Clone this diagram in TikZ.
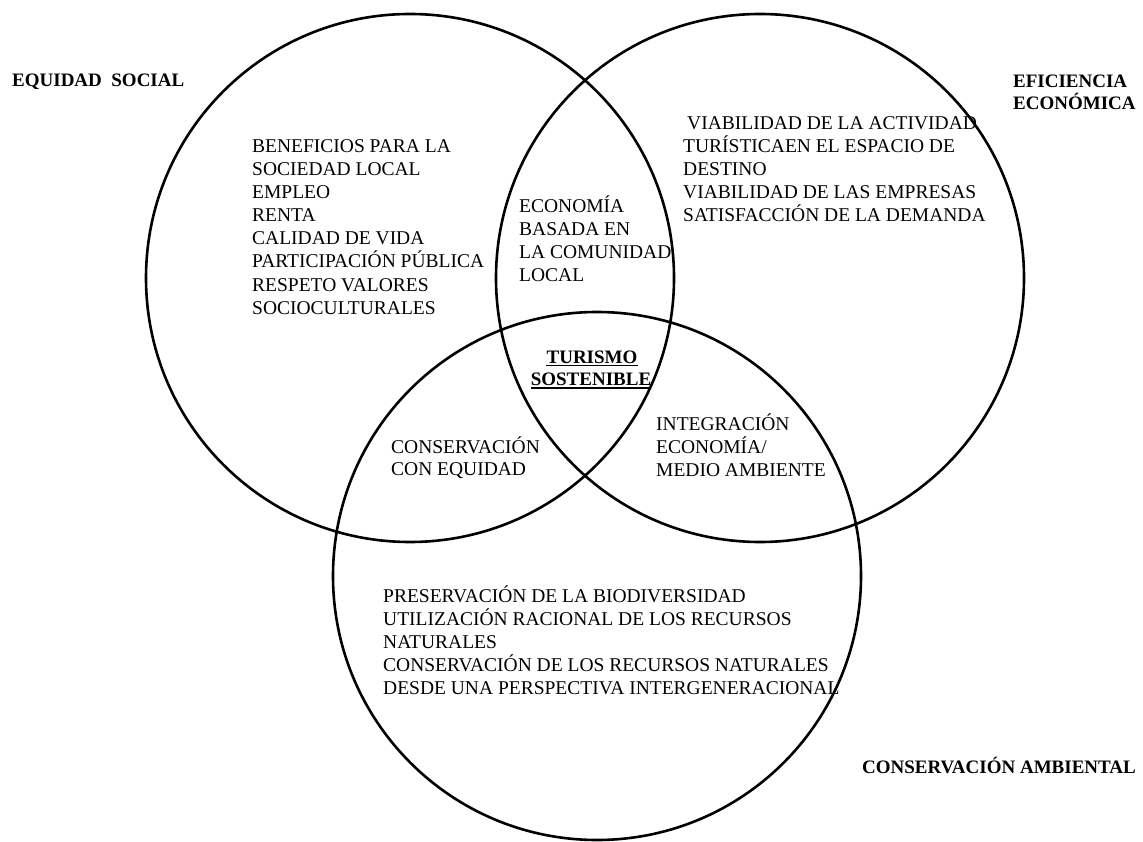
\documentclass[tikz,border=0pt]{standalone}
\usepackage{fontspec}
\setmainfont{Liberation Serif}
\begin{document}
\begin{tikzpicture}[x=1pt,y=-1pt,
  txt/.style={anchor=west, inner sep=0pt, font=\fontsize{19.5}{23}\selectfont, text height=12.8pt, text depth=0pt},
  bld/.style={txt, font=\fontsize{19}{23}\selectfont\bfseries},
  ring/.style={draw, line width=2.6pt, circle, minimum size=528pt, inner sep=0pt},
  uline/.style={line width=1.6pt}]
\useasboundingbox (0,0) rectangle (1143,842);
\node[ring] (cs) at (410,278) {};
\node[ring] (ce) at (760,278) {};
\node[ring] (ca) at (597,576) {};
% headings
\node[bld] (hs) at (12,80) {EQUIDAD\hspace{0.5em}SOCIAL};
\node[bld] (he1) at (1013,81) {EFICIENCIA};
\node[bld] (he2) at (1013,103) {ECONÓMICA};
\node[bld] (ha) at (862,767) {CONSERVACIÓN AMBIENTAL};
% social
\foreach \t [count=\i] in {BENEFICIOS PARA LA, SOCIEDAD LOCAL, EMPLEO, RENTA, CALIDAD DE VIDA, PARTICIPACIÓN PÚBLICA, RESPETO VALORES, SOCIOCULTURALES}
  \node[txt] (s\i) at (252,{146+23.1*(\i-1)}) {\t};
% economic
\node[txt] (e1) at (687,123) {VIABILIDAD DE LA ACTIVIDAD};
\foreach \t [count=\i from 2] in {TURÍSTICAEN EL ESPACIO DE, DESTINO, VIABILIDAD DE LAS EMPRESAS, SATISFACCIÓN DE LA DEMANDA}
  \node[txt] (e\i) at (683,{123+23*(\i-1)}) {\t};
% social-economic
\foreach \t [count=\i] in {ECONOMÍA, BASADA EN, LA COMUNIDAD, LOCAL}
  \node[txt] (se\i) at (519,{206+23*(\i-1)}) {\t};
% centre
\node[bld, anchor=center] (t1) at (592,357) {TURISMO};
\node[bld, anchor=center] (t2) at (591,379) {SOSTENIBLE};
\draw[uline] ([yshift=-2pt]t1.south west) -- ([yshift=-2pt]t1.south east);
\draw[uline] ([yshift=-2.5pt]t2.south west) -- ([yshift=-2.5pt]t2.south east);
% economic-environment
\foreach \t [count=\i] in {INTEGRACIÓN, ECONOMÍA/, MEDIO AMBIENTE}
  \node[txt] (ea\i) at (656,{424+22.8*(\i-1)}) {\t};
% social-environment
\node[txt] (sa1) at (391,447) {CONSERVACIÓN};
\node[txt] (sa2) at (391,469) {CON EQUIDAD};
% environment
\foreach \t [count=\i] in {PRESERVACIÓN DE LA BIODIVERSIDAD, UTILIZACIÓN RACIONAL DE LOS RECURSOS, NATURALES, CONSERVACIÓN DE LOS RECURSOS NATURALES, DESDE UNA PERSPECTIVA INTERGENERACIONAL}
  \node[txt] (a\i) at (383,{596+23.1*(\i-1)}) {\t};
\end{tikzpicture}
\end{document}
